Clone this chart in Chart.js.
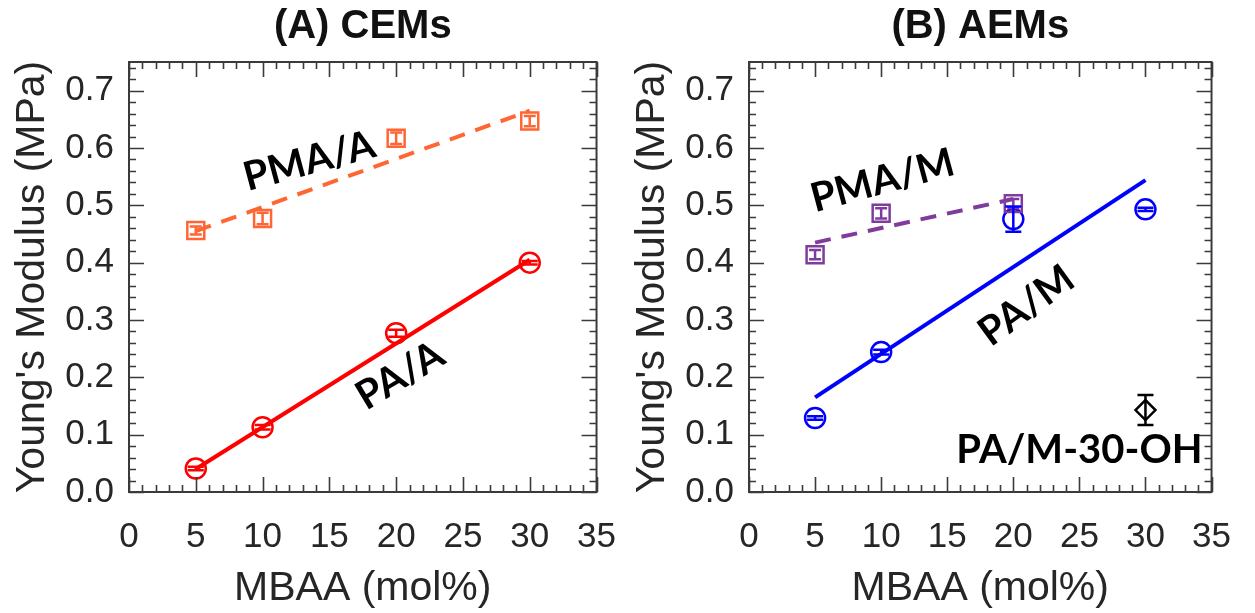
<!DOCTYPE html>
<html>
<head>
<meta charset="utf-8">
<script src="https://cdn.jsdelivr.net/npm/chart.js@4.4.1/dist/chart.umd.min.js"></script>
<style>
  html, body { margin: 0; padding: 0; background: #fff; }
  #wrap { position: relative; width: 1255px; height: 613px; overflow: hidden; }
  .panel { position: absolute; top: 0; height: 613px; }
  #panelA { left: 0; width: 640px; }
  #panelB { left: 620px; width: 635px; }
</style>
</head>
<body>
<div id="wrap">
  <div class="panel" id="panelA"><canvas id="chartA" width="640" height="613"></canvas></div>
  <div class="panel" id="panelB"><canvas id="chartB" width="635" height="613"></canvas></div>
</div>
<script>
// axis ticks
const xTicks = [0, 5, 10, 15, 20, 25, 30, 35];
const yTicks = [0, 0.1, 0.2, 0.3, 0.4, 0.5, 0.6, 0.7];

// (A) CEMs
const mbaaA = [5, 10, 20, 30];
const paA = [0.041, 0.113, 0.277, 0.400];
const paAErr = [0.003, 0.004, 0.006, 0.003];
const pmaA = [0.456, 0.477, 0.617, 0.647];
const pmaAErr = [0.007, 0.010, 0.010, 0.009];
const fitXA = [5, 30];
const paAFit = [0.040, 0.405];
const pmaAFit = [0.455, 0.665];

// (B) AEMs
const mbaaB = [5, 10, 20, 30];
const paM = [0.129, 0.244, 0.476, 0.493];
const paMErr = [0.003, 0.004, 0.022, 0.003];
const mbaaPmaM = [5, 10, 20];
const pmaM = [0.414, 0.486, 0.503];
const pmaMErr = [0.008, 0.009, 0.008];
const paMFitX = [5, 30];
const paMFit = [0.165, 0.544];
const pmaMFitX = [5, 20];
const pmaMFit = [0.435, 0.511];
const ohX = [30];
const paM30OH = [0.143];
const paM30OHErr = [0.026];

// text labels placed in data coordinates
const labelsA = [
  { text: 'PMA/A', x: 13.5, y: 0.577, angle: -15 },
  { text: 'PA/A', x: 20.3, y: 0.203, angle: -31 }
];
const labelsB = [
  { text: 'PMA/M', x: 10.1, y: 0.543, angle: -15 },
  { text: 'PA/M', x: 21.0, y: 0.325, angle: -36 },
  { text: 'PA/M-30-OH', x: 25.0, y: 0.073, angle: 0 }
];

const ink = '#262626';
Chart.defaults.font.family = "'Liberation Sans', Arial, sans-serif";
Chart.defaults.color = ink;

const pts = (xs, ys) => xs.map((x, i) => ({ x: x, y: ys[i] }));

// frame on four sides with inward ticks, like the usual journal axes
const frameTicks = {
  id: 'frameTicks',
  afterDraw(chart) {
    const { ctx, chartArea: a, scales: { x, y } } = chart;
    ctx.save();
    ctx.strokeStyle = '#3a3a3a';
    ctx.lineWidth = 1.6;
    for (let v = 0; v <= 35; v += 1) {
      const px = Math.round(x.getPixelForValue(v)) + 0.5;
      const len = v % 5 === 0 ? 15 : 7;
      ctx.beginPath();
      ctx.moveTo(px, a.bottom); ctx.lineTo(px, a.bottom - len);
      ctx.moveTo(px, a.top); ctx.lineTo(px, a.top + len);
      ctx.stroke();
    }
    for (let i = 0; i <= 37; i++) {
      const v = i * 0.02;
      const py = Math.round(y.getPixelForValue(v)) + 0.5;
      const len = i % 5 === 0 ? 15 : 7;
      ctx.beginPath();
      ctx.moveTo(a.left, py); ctx.lineTo(a.left + len, py);
      ctx.moveTo(a.right, py); ctx.lineTo(a.right - len, py);
      ctx.stroke();
    }
    ctx.lineWidth = 2;
    ctx.strokeRect(a.left, a.top, a.right - a.left, a.bottom - a.top);
    ctx.restore();
  }
};

// vertical error bars with caps, from dataset.errors
const errorBars = {
  id: 'errorBars',
  afterDatasetsDraw(chart) {
    const { ctx, scales: { y } } = chart;
    chart.data.datasets.forEach((ds, di) => {
      if (!ds.errors) return;
      const meta = chart.getDatasetMeta(di);
      ctx.save();
      ctx.strokeStyle = ds.borderColor;
      ctx.lineWidth = 2.5;
      meta.data.forEach((el, i) => {
        const v = ds.data[i].y, e = ds.errors[i];
        const top = y.getPixelForValue(v + e), bot = y.getPixelForValue(v - e);
        const w = ds.capHalf || 7;
        ctx.beginPath();
        ctx.moveTo(el.x, top); ctx.lineTo(el.x, bot);
        ctx.moveTo(el.x - w, top); ctx.lineTo(el.x + w, top);
        ctx.moveTo(el.x - w, bot); ctx.lineTo(el.x + w, bot);
        ctx.stroke();
      });
      ctx.restore();
    });
  }
};

const annotate = {
  id: 'annotate',
  afterDraw(chart, args, opts) {
    const { ctx, scales: { x, y } } = chart;
    (opts.items || []).forEach(t => {
      ctx.save();
      ctx.translate(x.getPixelForValue(t.x), y.getPixelForValue(t.y));
      ctx.rotate(t.angle * Math.PI / 180);
      ctx.font = "bold 40px Lato, 'Liberation Sans', sans-serif";
      ctx.fillStyle = '#000';
      ctx.textAlign = 'center';
      ctx.textBaseline = 'middle';
      ctx.fillText(t.text, 0, 0);
      ctx.restore();
    });
  }
};

function fitLine(data, color, dashed) {
  return {
    data: data, showLine: true, borderColor: color, borderWidth: 4,
    borderDash: dashed ? [16, 11] : [], pointRadius: 0, fill: false, order: 2
  };
}

function markers(data, color, style, radius, errors) {
  return {
    data: data, showLine: false, borderColor: color, backgroundColor: 'rgba(0,0,0,0)',
    pointStyle: style, pointRadius: radius, pointBorderWidth: 2.5, errors: errors,
    capHalf: style === 'rect' ? 6 : 8, order: 1
  };
}

function makeOptions(title, rightPad, labels) {
  return {
    responsive: false,
    animation: false,
    devicePixelRatio: 1,
    layout: { padding: { left: 0, right: rightPad, top: 0, bottom: 0 }, autoPadding: false },
    plugins: {
      legend: { display: false },
      tooltip: { enabled: false },
      title: {
        display: true, text: title, fullSize: false, color: '#111',
        font: { size: 40, weight: 'bold' }, padding: { top: 3, bottom: 11 }
      },
      annotate: { items: labels }
    },
    scales: {
      x: {
        type: 'linear', min: 0, max: 35,
        afterBuildTicks: s => { s.ticks = xTicks.map(v => ({ value: v })); },
        afterFit: s => { s.height = 121; },
        ticks: { font: { size: 35 }, color: ink, padding: 24, maxRotation: 0, autoSkip: false },
        grid: { display: false, drawTicks: false },
        border: { display: false },
        title: { display: true, text: 'MBAA (mol%)', font: { size: 41 }, color: ink, padding: { top: 0, bottom: 0 } }
      },
      y: {
        type: 'linear', min: 0, max: 0.75,
        afterBuildTicks: s => { s.ticks = yTicks.map(v => ({ value: v })); },
        afterFit: s => { s.width = 129; },
        ticks: { font: { size: 35 }, color: ink, padding: 15, callback: v => v.toFixed(1) },
        grid: { display: false, drawTicks: false },
        border: { display: false },
        title: { display: true, text: "Young's Modulus (MPa)", font: { size: 41 }, color: ink, padding: { top: 8, bottom: 0 } }
      }
    }
  };
}

new Chart(document.getElementById('chartA'), {
  type: 'scatter',
  data: {
    datasets: [
      fitLine(pts(fitXA, pmaAFit), '#FF6633', true),
      fitLine(pts(fitXA, paAFit), '#FF0000', false),
      markers(pts(mbaaA, pmaA), '#FF6633', 'rect', 12, pmaAErr),
      markers(pts(mbaaA, paA), '#FF0000', 'circle', 10, paAErr)
    ]
  },
  options: makeOptions('(A) CEMs', 34, labelsA),
  plugins: [errorBars, frameTicks, annotate]
});

new Chart(document.getElementById('chartB'), {
  type: 'scatter',
  data: {
    datasets: [
      fitLine(pts(pmaMFitX, pmaMFit), '#7F3C9C', true),
      fitLine(pts(paMFitX, paMFit), '#0000FF', false),
      markers(pts(mbaaPmaM, pmaM), '#7F3C9C', 'rect', 12, pmaMErr),
      markers(pts(mbaaB, paM), '#0000FF', 'circle', 10, paMErr),
      markers(pts(ohX, paM30OH), '#000000', 'rectRot', 10, paM30OHErr)
    ]
  },
  options: makeOptions('(B) AEMs', 29, labelsB),
  plugins: [errorBars, frameTicks, annotate]
});
</script>
</body>
</html>
